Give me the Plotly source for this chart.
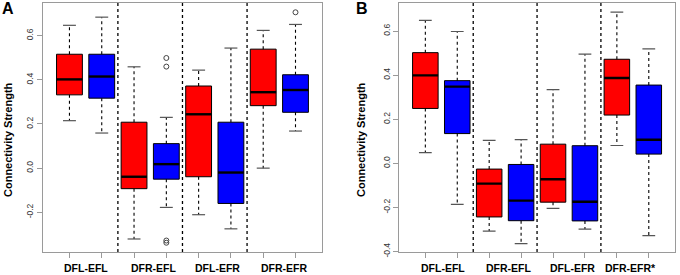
import plotly.graph_objects as go

# ---------------- data ----------------
positions = [1, 2, 3, 4, 5, 6, 7, 8]
colors = ["#FF0000", "#0000FF"] * 4
group_labels_A = ["DFL-EFL", "DFR-EFL", "DFL-EFR", "DFR-EFR"]
group_labels_B = ["DFL-EFL", "DFR-EFL", "DFL-EFR", "DFR-EFR*"]
label_pos_A = [1.51, 3.59, 5.6, 7.63]
label_pos_B = [1.54, 3.6, 5.6, 7.43]
dividers = [2.5, 4.5, 6.5]
y_ticks = [-0.4, -0.2, 0.0, 0.2, 0.4, 0.6]

A_upper = [0.647, 0.684, 0.459, 0.230, 0.444, 0.544, 0.624, 0.651]
A_q3 = [0.516, 0.516, 0.208, 0.111, 0.372, 0.208, 0.539, 0.423]
A_med = [0.402, 0.415, -0.039, 0.018, 0.244, -0.020, 0.344, 0.354]
A_q1 = [0.332, 0.317, -0.093, -0.050, -0.039, -0.160, 0.283, 0.253]
A_lower = [0.215, 0.159, -0.321, -0.178, -0.211, -0.275, 0.000, 0.168]
A_out_x = [4, 4, 4, 4, 8]
A_out_y = [0.499, 0.460, -0.328, -0.338, 0.706]

B_upper = [0.648, 0.598, 0.104, 0.108, 0.334, 0.495, 0.686, 0.519]
B_q3 = [0.502, 0.375, -0.026, -0.005, 0.087, 0.080, 0.472, 0.355]
B_med = [0.399, 0.348, -0.092, -0.169, -0.072, -0.174, 0.387, 0.107]
B_q1 = [0.249, 0.135, -0.243, -0.260, -0.176, -0.261, 0.219, 0.042]
B_lower = [0.049, -0.186, -0.307, -0.364, -0.204, -0.298, 0.081, -0.328]
B_out_x = []
B_out_y = []

A_yrange = [-0.38, 0.748]
B_yrange = [-0.402, 0.727]
x_range = [0.18, 8.82]

BOXW = 0.8
CAPW = 0.2
FONT = "Liberation Sans, Arial, sans-serif"

fig = go.Figure()


def add_panel(xa, ya, upper, q3, med, q1, lower, ox, oy, yrange):
    xref = "x" if xa == "x" else "x2"
    yref = "y" if ya == "y" else "y2"
    # boxes
    fig.add_trace(go.Bar(
        x=positions, y=[b - a for a, b in zip(q1, q3)], base=q1, width=BOXW,
        marker=dict(color=colors, line=dict(color="#000000", width=1)),
        xaxis=xref, yaxis=yref, showlegend=False, hoverinfo="skip"))
    # whiskers (dotted)
    wx, wy = [], []
    for p, u, t, b, l in zip(positions, upper, q3, q1, lower):
        wx += [p, p, None, p, p, None]
        wy += [t, u, None, b, l, None]
    fig.add_trace(go.Scatter(x=wx, y=wy, mode="lines",
                             line=dict(color="#000000", width=1.1, dash="dot"),
                             xaxis=xref, yaxis=yref, showlegend=False, hoverinfo="skip"))
    # caps
    cx, cy = [], []
    for p, u, l in zip(positions, upper, lower):
        cx += [p - CAPW, p + CAPW, None, p - CAPW, p + CAPW, None]
        cy += [u, u, None, l, l, None]
    fig.add_trace(go.Scatter(x=cx, y=cy, mode="lines",
                             line=dict(color="#555555", width=1.2),
                             xaxis=xref, yaxis=yref, showlegend=False, hoverinfo="skip"))
    # medians
    mx, my = [], []
    for p, m in zip(positions, med):
        mx += [p - BOXW / 2, p + BOXW / 2, None]
        my += [m, m, None]
    fig.add_trace(go.Scatter(x=mx, y=my, mode="lines",
                             line=dict(color="#000000", width=2.4),
                             xaxis=xref, yaxis=yref, showlegend=False, hoverinfo="skip"))
    # outliers
    if ox:
        fig.add_trace(go.Scatter(x=ox, y=oy, mode="markers",
                                 marker=dict(symbol="circle-open", size=5,
                                             color="#444444", line=dict(width=1)),
                                 xaxis=xref, yaxis=yref, showlegend=False, hoverinfo="skip"))
    # dividers
    dx, dy = [], []
    for d in dividers:
        dx += [d, d, None]
        dy += [yrange[0], yrange[1], None]
    fig.add_trace(go.Scatter(x=dx, y=dy, mode="lines",
                             line=dict(color="#000000", width=1.3, dash="dot"),
                             xaxis=xref, yaxis=yref, showlegend=False, hoverinfo="skip"))


add_panel("x", "y", A_upper, A_q3, A_med, A_q1, A_lower, A_out_x, A_out_y, A_yrange)
add_panel("x2", "y2", B_upper, B_q3, B_med, B_q1, B_lower, B_out_x, B_out_y, B_yrange)

axis_common = dict(showline=True, mirror=True, linecolor="#9a9a9a", linewidth=1.3,
                   ticks="outside", ticklen=5, tickcolor="#9a9a9a", tickwidth=1,
                   showgrid=False, zeroline=False, automargin=False)

A_ticks = [t for t in y_ticks if A_yrange[0] <= t <= A_yrange[1]]
B_ticks = [t for t in y_ticks if B_yrange[0] <= t <= B_yrange[1]]

fig.update_layout(
    width=680, height=275,
    margin=dict(l=0, r=0, t=0, b=0),
    paper_bgcolor="white", plot_bgcolor="white",
    barmode="overlay",
    xaxis=dict(domain=[0.0632, 0.4735], range=x_range, tickvals=positions,
               showticklabels=False, anchor="y", **axis_common),
    yaxis=dict(domain=[0.0836, 0.989], range=A_yrange, tickvals=A_ticks,
               ticktext=["%.1f" % t for t in A_ticks], tickangle=-90,
               tickfont=dict(family=FONT, size=8.5, color="#333333"),
               anchor="x", **axis_common),
    xaxis2=dict(domain=[0.587, 0.9926], range=x_range, tickvals=positions,
                showticklabels=False, anchor="y2", **axis_common),
    yaxis2=dict(domain=[0.0836, 0.989], range=B_yrange, tickvals=B_ticks,
                ticktext=["%.1f" % t for t in B_ticks], tickangle=-90,
                tickfont=dict(family=FONT, size=8.5, color="#333333"),
                anchor="x2", **axis_common),
)

annotations = []
for lab, p in zip(group_labels_A, label_pos_A):
    annotations.append(dict(x=p, y=0.0255, xref="x", yref="paper", text="<b>%s</b>" % lab,
                            showarrow=False, font=dict(family=FONT, size=10.5, color="#000000"),
                            xanchor="center", yanchor="middle"))
for lab, p in zip(group_labels_B, label_pos_B):
    annotations.append(dict(x=p, y=0.0255, xref="x2", yref="paper", text="<b>%s</b>" % lab,
                            showarrow=False, font=dict(family=FONT, size=10.5, color="#000000"),
                            xanchor="center", yanchor="middle"))
for letter, px in [("A", 8 / 680), ("B", 362 / 680)]:
    annotations.append(dict(x=px, y=1 - 9 / 275, xref="paper", yref="paper",
                            text="<b>%s</b>" % letter, showarrow=False,
                            font=dict(family=FONT, size=16, color="#000000"),
                            xanchor="center", yanchor="middle"))
for px in [8 / 680, 361 / 680]:
    annotations.append(dict(x=px, y=1 - 140 / 275, xref="paper", yref="paper",
                            text="<b>Connectivity Strength</b>", textangle=-90, showarrow=False,
                            font=dict(family=FONT, size=11, color="#000000"),
                            xanchor="center", yanchor="middle"))
fig.update_layout(annotations=annotations)

fig.write_html("out.html", config={"displayModeBar": False},
               post_script="document.body.style.margin='0';")
